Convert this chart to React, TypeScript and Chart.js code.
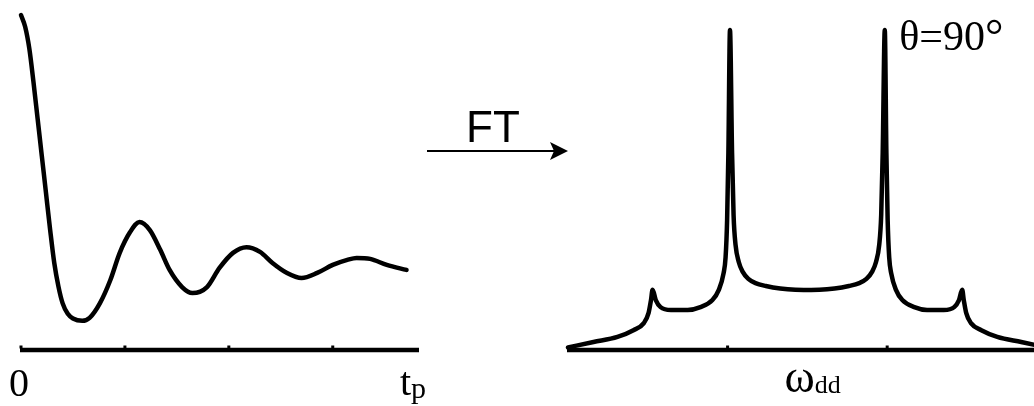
import React, { useEffect, useRef } from "react";
import { Chart, registerables } from "chart.js";

Chart.register(...registerables);

// Time-domain dipolar signal: fast initial decay, then a damped oscillation
const timeValues = [
  0, 0.04, 0.08, 0.12, 0.16, 0.2, 0.24, 0.28, 0.32, 0.36, 0.4, 0.45, 0.5, 0.59,
  0.66, 0.76, 0.86, 0.95, 1.05, 1.14, 1.24, 1.34, 1.43, 1.55, 1.65, 1.79, 1.91,
  2.04, 2.17, 2.3, 2.42, 2.56, 2.7, 2.85, 3.0, 3.14, 3.23, 3.36, 3.52, 3.71,
];
const signalValues = [
  1.0, 0.965, 0.9, 0.8, 0.69, 0.58, 0.47, 0.36, 0.26, 0.19, 0.14, 0.108, 0.094,
  0.087, 0.096, 0.14, 0.209, 0.29, 0.352, 0.382, 0.358, 0.299, 0.239, 0.188, 0.17,
  0.188, 0.245, 0.29, 0.307, 0.293, 0.26, 0.23, 0.215, 0.23, 0.254, 0.269, 0.275,
  0.272, 0.254, 0.239,
];
const timeTicks = [0, 1, 2, 3];
const timeMin = 0;
const timeMax = 3.83;

// Frequency-domain powder pattern: horns near ±1, shoulders near ±2
const freqValues = [
  -3.0, -2.68, -2.38, -2.18, -2.05, -1.99, -1.96, -1.94, -1.9, -1.84, -1.71, -1.5,
  -1.34, -1.19, -1.11, -1.05, -1.025, -1.006, -0.99, -0.97, -0.944, -0.925, -0.9,
  -0.86, -0.81, -0.74, -0.65, -0.52, -0.34, -0.15, 0, 0.15, 0.34, 0.52, 0.65, 0.74,
  0.81, 0.86, 0.9, 0.925, 0.944, 0.97, 0.99, 1.006, 1.025, 1.05, 1.11, 1.19, 1.34,
  1.5, 1.71, 1.84, 1.9, 1.94, 1.96, 1.99, 2.05, 2.18, 2.38, 2.68, 3.0,
];
const intensityValues = [
  0.008, 0.025, 0.041, 0.062, 0.084, 0.116, 0.156, 0.188, 0.156, 0.134, 0.125,
  0.125, 0.134, 0.156, 0.188, 0.24, 0.29, 0.406, 0.616, 1.0, 0.616, 0.422, 0.328,
  0.275, 0.244, 0.222, 0.209, 0.2, 0.192, 0.188, 0.1875, 0.188, 0.192, 0.2, 0.209,
  0.222, 0.244, 0.275, 0.328, 0.422, 0.616, 1.0, 0.616, 0.406, 0.29, 0.24, 0.188,
  0.156, 0.134, 0.125, 0.125, 0.134, 0.156, 0.188, 0.156, 0.116, 0.084, 0.062,
  0.041, 0.025, 0.008,
];
const freqTicks = [-1, 1];
const freqMin = -3;
const freqMax = 2.84;

const SERIF = "'Liberation Serif', 'Times New Roman', serif";
const SANS = "'Liberation Sans', Arial, sans-serif";

type AxisLabel = {
  text: string;
  sub?: string;
  sup?: string;
  at: number; // x value the label is anchored to
  dx: number;
  y: number;
  size: number;
  subSize?: number;
  subDy?: number;
  supSize?: number;
  supDx?: number;
  supDy?: number;
  align?: "left" | "center";
};

// Draws the baseline with small tick bumps and the serif labels
function axisDecor(ticks: number[], labels: AxisLabel[]) {
  return {
    id: "axisDecor",
    beforeDatasetsDraw(chart: any) {
      const { ctx, scales } = chart;
      const xs = scales.x;
      const ys = scales.y;
      const y0 = ys.getPixelForValue(0);
      ctx.save();
      ctx.strokeStyle = "#000";
      ctx.lineWidth = 4.5;
      ctx.lineCap = "butt";
      ctx.beginPath();
      ctx.moveTo(xs.getPixelForValue(xs.min) - 1, y0);
      ctx.lineTo(xs.getPixelForValue(xs.max), y0);
      ctx.stroke();
      ctx.fillStyle = "#000";
      for (const t of ticks) {
        const px = xs.getPixelForValue(t);
        ctx.fillRect(px - 1.5, y0 - 4.5, 3, 3);
      }
      ctx.restore();
    },
    afterDatasetsDraw(chart: any) {
      const { ctx, scales } = chart;
      const xs = scales.x;
      ctx.save();
      ctx.fillStyle = "#000";
      ctx.textBaseline = "alphabetic";
      ctx.textAlign = "left";
      for (const l of labels) {
        ctx.font = `${l.size}px ${SERIF}`;
        const mainW = ctx.measureText(l.text).width;
        let x = xs.getPixelForValue(l.at) + l.dx;
        if (l.align === "center") x -= mainW / 2;
        ctx.fillText(l.text, x, l.y);
        if (l.sub) {
          ctx.font = `${l.subSize || l.size * 0.65}px ${SERIF}`;
          ctx.fillText(l.sub, x + mainW, l.y + (l.subDy || 0));
        }
        if (l.sup) {
          ctx.font = `${l.supSize || l.size}px ${SERIF}`;
          ctx.fillText(l.sup, x + mainW + (l.supDx || 0), l.y + (l.supDy || 0));
        }
      }
      ctx.restore();
    },
  };
}

function LineChart(props: {
  xs: number[];
  ys: number[];
  xMin: number;
  xMax: number;
  yMax: number;
  ticks: number[];
  labels: AxisLabel[];
  padding: { left: number; right: number; top: number; bottom: number };
  width: number;
  height: number;
}) {
  const ref = useRef<HTMLCanvasElement | null>(null);
  useEffect(() => {
    if (!ref.current) return;
    const chart = new Chart(ref.current, {
      type: "line",
      data: {
        datasets: [
          {
            data: props.xs.map((x, i) => ({ x, y: props.ys[i] })),
            borderColor: "#000",
            borderWidth: 4.5,
            borderCapStyle: "round",
            borderJoinStyle: "round",
            pointRadius: 0,
            fill: false,
            cubicInterpolationMode: "monotone",
            clip: false as any,
          },
        ],
      },
      options: {
        responsive: false,
        maintainAspectRatio: false,
        animation: false,
        devicePixelRatio: 1,
        layout: { padding: props.padding },
        plugins: { legend: { display: false }, tooltip: { enabled: false } },
        events: [],
        scales: {
          x: { type: "linear", display: false, min: props.xMin, max: props.xMax },
          y: { type: "linear", display: false, min: 0, max: props.yMax },
        },
      },
      plugins: [axisDecor(props.ticks, props.labels)],
    });
    return () => chart.destroy();
  }, []);
  return (
    <canvas
      ref={ref}
      width={props.width}
      height={props.height}
      style={{ width: props.width, height: props.height, display: "block" }}
    />
  );
}

export default function App() {
  return (
    <div
      style={{
        position: "absolute",
        left: 0,
        top: 0,
        width: 1034,
        height: 406,
        background: "#fff",
        overflow: "hidden",
      }}
    >
      <div style={{ position: "absolute", left: 0, top: 0 }}>
        <LineChart
          xs={timeValues}
          ys={signalValues}
          xMin={timeMin}
          xMax={timeMax}
          yMax={1}
          ticks={timeTicks}
          labels={[
            { text: "0", at: timeMin, dx: -2, y: 396, size: 40, align: "center" },
            { text: "t", sub: "p", at: timeMax, dx: -19, y: 395, size: 40, subSize: 30, subDy: 3 },
          ]}
          padding={{ left: 21, right: 21, top: 15, bottom: 56 }}
          width={440}
          height={406}
        />
      </div>
      <svg
        width={200}
        height={80}
        style={{ position: "absolute", left: 400, top: 100 }}
      >
        <text x={66} y={42} fontFamily={SANS} fontSize={44} fill="#000">
          FT
        </text>
        <line x1={27} y1={51} x2={156} y2={51} stroke="#000" strokeWidth={2} />
        <polygon points="168,51 150,42 154,51 150,60" fill="#000" />
      </svg>
      <div style={{ position: "absolute", left: 540, top: 0 }}>
        <LineChart
          xs={freqValues}
          ys={intensityValues}
          xMin={freqMin}
          xMax={freqMax}
          yMax={1}
          ticks={freqTicks}
          labels={[
            { text: "θ=90", sup: "°", at: freqTicks[1], dx: 12, y: 50, size: 42, supSize: 46, supDx: 0, supDy: 1 },
            { text: "ω", sub: "dd", at: 0, dx: -23, y: 392, size: 46, subSize: 26, subDy: 1 },
          ]}
          padding={{ left: 28, right: 0, top: 30, bottom: 56 }}
          width={494}
          height={406}
        />
      </div>
    </div>
  );
}
